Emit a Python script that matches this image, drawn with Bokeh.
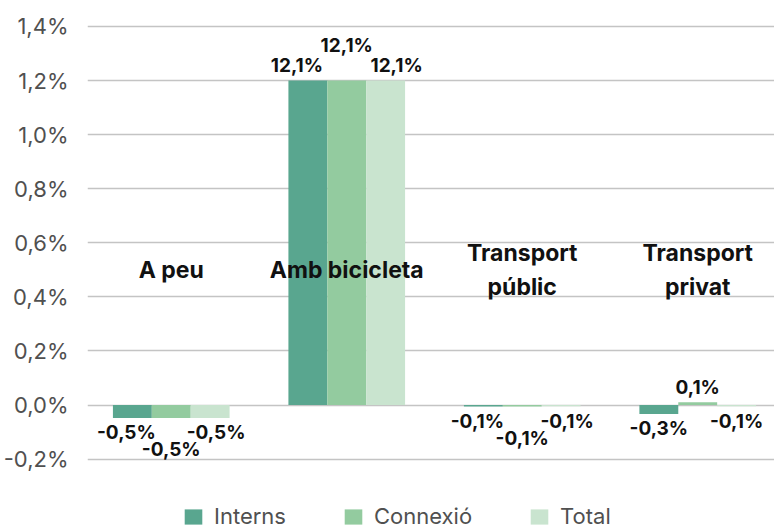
from bokeh.plotting import figure
from bokeh.models import (ColumnDataSource, FixedTicker, CustomJSTickFormatter,
                          Legend, LegendItem)
from bokeh.core.properties import value
from bokeh.embed import file_html
from bokeh.resources import INLINE

# ---- data ----
categories = ["A peu", "Amb bicicleta", "Transport\npúblic", "Transport\nprivat"]
series = ["Interns", "Connexió", "Total"]
interns = [-0.048, 1.20, -0.006, -0.033]
connexio = [-0.048, 1.20, -0.006, 0.010]
total = [-0.048, 1.20, -0.005, -0.005]
interns_lbl = ["-0,5%", "12,1%", "-0,1%", "-0,3%"]
connexio_lbl = ["-0,5%", "12,1%", "-0,1%", "0,1%"]
total_lbl = ["-0,5%", "12,1%", "-0,1%", "-0,1%"]
y_ticks = [-0.2, 0.0, 0.2, 0.4, 0.6, 0.8, 1.0, 1.2, 1.4]

colors = ["#59a68f", "#93cb9f", "#c9e4cf"]
FONT = "Inter"

# ---- geometry ----
W, H = 774, 528
LEFT = 85
TOP = 8
px_x = 1 / 176.0          # data units per pixel (x)
px_y = 1 / 270.4          # data units per pixel (y)
x0 = -84.0 * px_x
x1 = x0 + (W - LEFT) * px_x
y1 = (404.5 - TOP) * px_y
y0 = y1 - (H - TOP) * px_y

p = figure(width=W, height=H, output_backend="svg", toolbar_location=None,
           x_range=(x0, x1), y_range=(y0, y1), x_axis_type=None,
           min_border_left=LEFT, min_border_right=0, min_border_top=TOP,
           min_border_bottom=0)
p.outline_line_color = None
p.background_fill_color = "white"
p.border_fill_color = "white"

# axis
ax = p.yaxis[0]
ax.ticker = FixedTicker(ticks=y_ticks)
ax.formatter = CustomJSTickFormatter(code="return tick.toFixed(1).replace('.', ',') + '%';")
ax.axis_line_color = None
ax.major_tick_line_color = None
ax.minor_tick_line_color = None
ax.major_label_text_font = FONT
ax.major_label_text_font_size = "22px"
ax.major_label_text_color = "#505050"
ax.major_label_standoff = 13
p.ygrid.ticker = FixedTicker(ticks=y_ticks)
p.ygrid.grid_line_color = "#c4c4c4"
p.ygrid.grid_line_width = 1.5

bw = 39 * px_x
offsets = [-bw, 0.0, bw]
all_vals = [interns, connexio, total]
all_lbls = [interns_lbl, connexio_lbl, total_lbl]

renderers = []
for s, (vals, off, col) in enumerate(zip(all_vals, offsets, colors)):
    src = ColumnDataSource(dict(x=[i + off for i in range(len(categories))], top=vals))
    r = p.vbar(x="x", top="top", bottom=0, width=bw, source=src,
               fill_color=col, line_color=None)
    renderers.append(r)

# data labels
lx, ly, lt = [], [], []
for i in range(len(categories)):
    vals_i = [all_vals[s][i] for s in range(3)]
    staggered = all(v > 0 for v in vals_i) or all(v < 0 for v in vals_i)
    for s in range(3):
        v = all_vals[s][i]
        sign = 1 if v >= 0 else -1
        dist = 15
        if s == 1 and staggered:
            dist = 35 if v > 0 else 32
        nudge = 0
        if staggered and s != 1:
            mag = 11 if abs(v) >= 1 else 6
            nudge = -mag if s == 0 else mag
        lx.append(i + offsets[s] + nudge * px_x)
        ly.append(v + sign * dist * px_y)
        lt.append(all_lbls[s][i])
p.text(x=lx, y=ly, text=lt, text_align="center", text_baseline="middle",
       text_font=value(FONT), text_font_style="bold", text_font_size="19px",
       text_color="#111111")

# category labels inside plot
p.text(x=list(range(len(categories))), y=[0.5] * len(categories), text=categories,
       text_align="center", text_baseline="middle", text_font=value(FONT),
       text_font_style="bold", text_font_size="23px", text_color="#111111",
       text_line_height=1.2)

legend = Legend(items=[LegendItem(label=n, renderers=[r]) for n, r in zip(series, renderers)],
                orientation="horizontal", location=(95, -1), margin=0, padding=0,
                spacing=56, glyph_width=22, glyph_height=19, label_height=19,
                label_standoff=10, label_text_font=FONT, label_text_font_size="22px",
                label_text_color="#505050", border_line_color=None,
                background_fill_alpha=0)
p.add_layout(legend, "center")

open("out.html", "w").write(file_html(p, INLINE))
